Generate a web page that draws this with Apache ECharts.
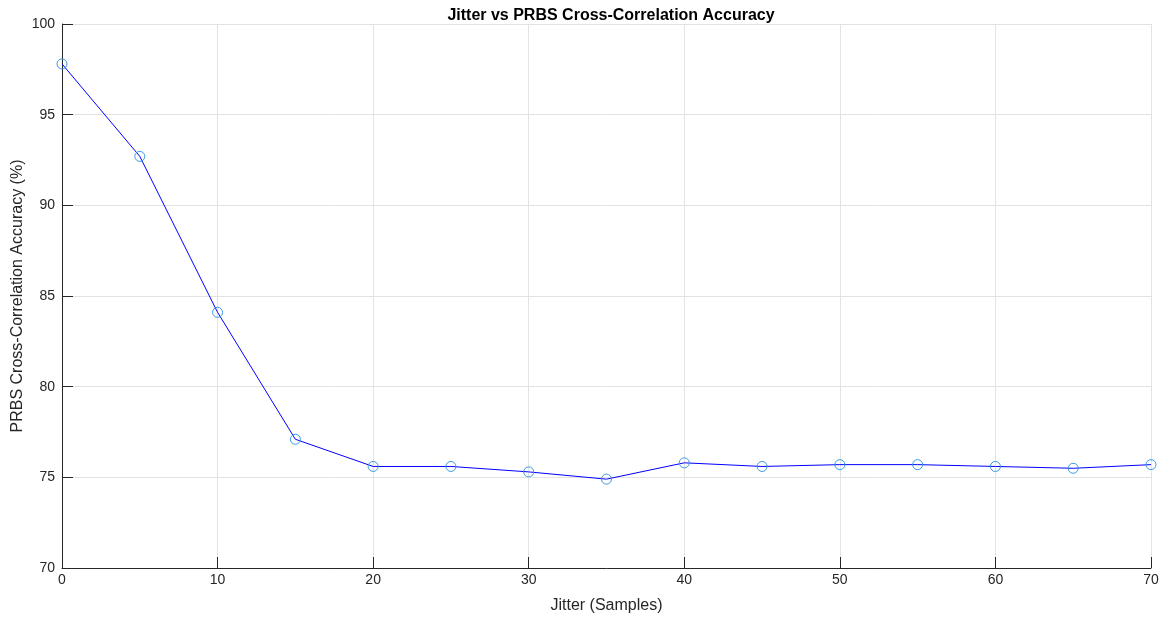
<!DOCTYPE html>
<html>
<head>
<meta charset="utf-8">
<script src="https://cdn.jsdelivr.net/npm/echarts@6/dist/echarts.min.js"></script>
<style>
  html, body { margin: 0; padding: 0; background: #ffffff; }
  #chart { width: 1174px; height: 623px; }
</style>
</head>
<body>
<div id="chart"></div>
<script>
// Jitter amount in samples
const jitter = [0, 5, 10, 15, 20, 25, 30, 35, 40, 45, 50, 55, 60, 65, 70];
// Cross-correlation accuracy in percent
const accuracy = [97.8, 92.7, 84.1, 77.1, 75.6, 75.6, 75.3, 74.9, 75.8, 75.6, 75.7, 75.7, 75.6, 75.5, 75.7];

const titleText = 'Jitter vs PRBS Cross-Correlation Accuracy';
const xName = 'Jitter (Samples)';
const yName = 'PRBS Cross-Correlation Accuracy (%)';

const font = 'Liberation Sans, Arial, sans-serif';
const textColor = '#262626';

const chart = echarts.init(document.getElementById('chart'), null, { renderer: 'canvas' });
chart.setOption({
  animation: false,
  backgroundColor: '#ffffff',
  title: {
    text: titleText,
    left: 606,
    textAlign: 'center',
    top: 3,
    textStyle: { fontFamily: font, fontSize: 16, fontWeight: 'bold', color: '#000000' }
  },
  grid: { left: 62, right: 23, top: 24, bottom: 55, containLabel: false, outerBoundsMode: 'none' },
  xAxis: {
    type: 'value',
    min: 0, max: 70, interval: 10,
    name: xName,
    nameLocation: 'middle',
    nameGap: 30,
    nameMoveOverlap: false,
    nameTextStyle: { fontFamily: font, fontSize: 16, color: textColor },
    axisLine: { show: true, onZero: false, lineStyle: { color: '#262626', width: 1 } },
    axisTick: { show: true, inside: true, length: 11, lineStyle: { color: '#262626' } },
    axisLabel: { fontFamily: font, fontSize: 14, color: textColor, margin: 5 },
    splitLine: { show: true, lineStyle: { color: '#e3e3e3', width: 1 } }
  },
  yAxis: {
    type: 'value',
    min: 70, max: 100, interval: 5,
    name: yName,
    nameLocation: 'middle',
    nameGap: 36,
    nameMoveOverlap: false,
    nameRotate: 90,
    nameTextStyle: { fontFamily: font, fontSize: 16, color: textColor },
    axisLine: { show: true, onZero: false, lineStyle: { color: '#262626', width: 1 } },
    axisTick: { show: true, inside: true, length: 11, lineStyle: { color: '#262626' } },
    axisLabel: { fontFamily: font, fontSize: 14, color: textColor, margin: 7 },
    splitLine: { show: true, lineStyle: { color: '#e3e3e3', width: 1 } }
  },
  series: [{
    type: 'line',
    data: jitter.map((x, i) => [x, accuracy[i]]),
    symbol: 'circle',
    symbolSize: 10,
    showAllSymbol: true,
    clip: false,
    lineStyle: { color: '#0000ff', width: 1 },
    itemStyle: { color: 'rgba(0,0,0,0)', borderColor: '#3b9be0', borderWidth: 1 },
    emphasis: { disabled: true }
  }]
});
</script>
</body>
</html>
